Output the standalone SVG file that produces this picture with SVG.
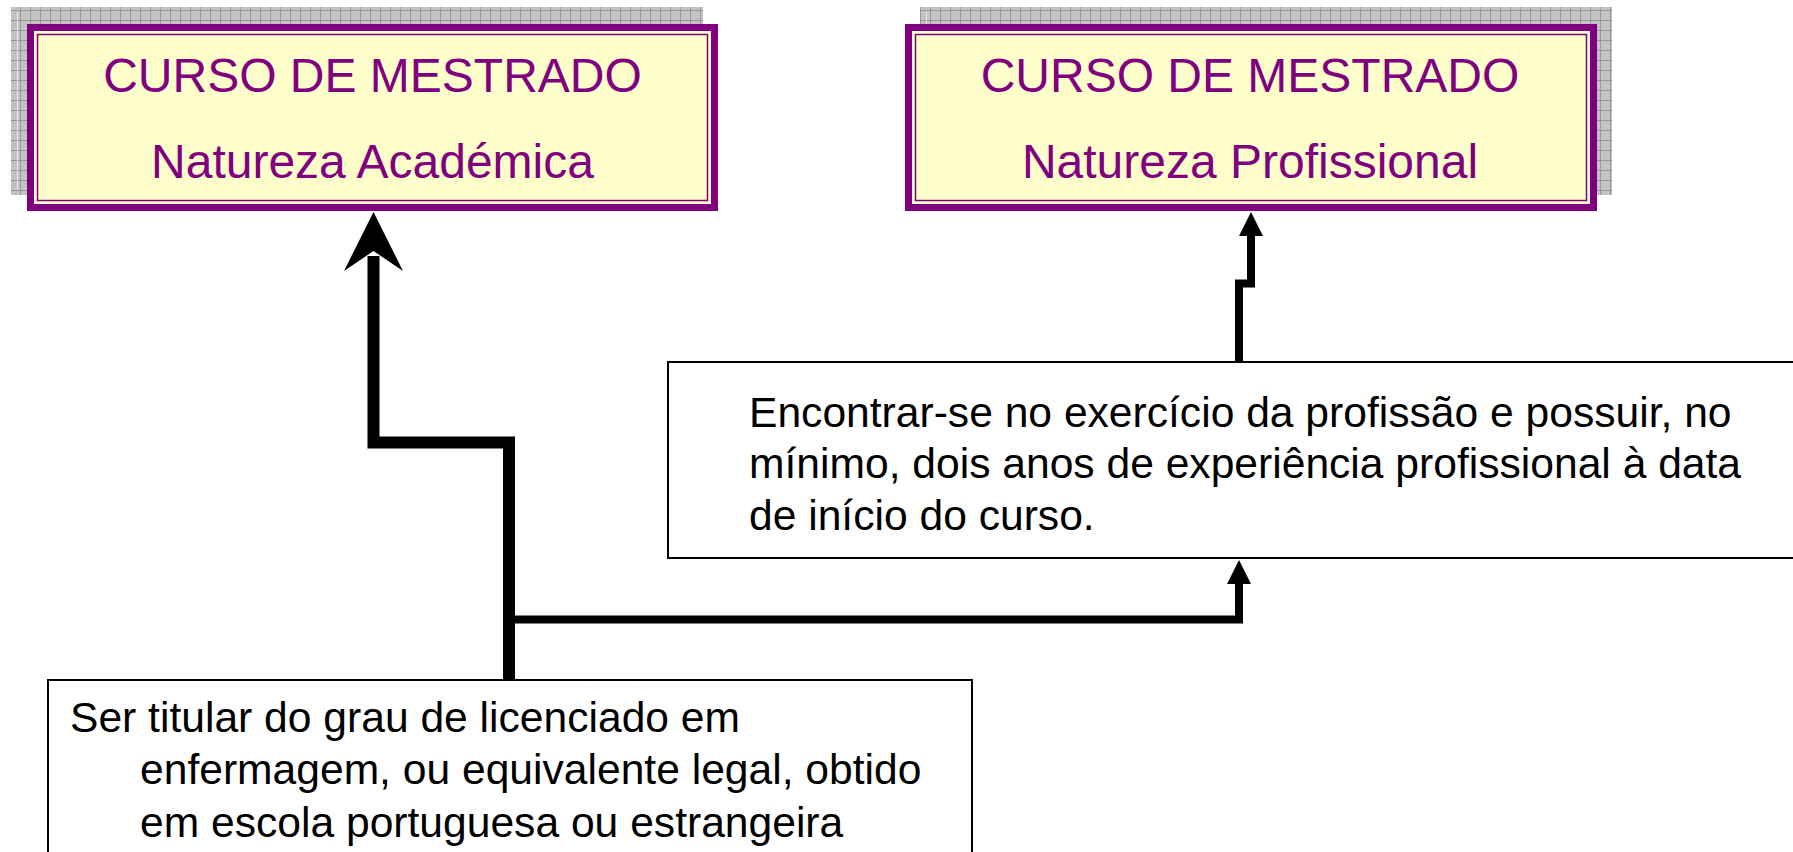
<svg xmlns="http://www.w3.org/2000/svg" width="1793" height="852" viewBox="0 0 1793 852">
  <defs>
    <pattern id="grid" patternUnits="userSpaceOnUse" width="10" height="10">
      <rect width="10" height="10" fill="#c4c4c4"/>
      <rect x="1" y="1" width="1" height="1" fill="#b0b0b0"/>
      <rect x="5" y="3" width="1" height="1" fill="#b0b0b0"/>
      <rect x="3" y="6" width="1" height="1" fill="#b0b0b0"/>
      <rect x="7" y="8" width="1" height="1" fill="#b0b0b0"/>
      <path d="M0,0.5 H10 M0.5,0 V10" stroke="#979797" stroke-width="1" fill="none"/>
    </pattern>
  </defs>
  <style>
    .shadow { fill: url(#grid); }
    .outer { fill: #ffffcc; stroke: #800080; stroke-width: 7; }
    .inner { fill: none; stroke: #800080; stroke-width: 1.5; }
    .title { font-family: "Liberation Sans", Arial, sans-serif; font-size: 48px; fill: #800080; text-anchor: middle; }
    .box { fill: #ffffff; stroke: #000000; stroke-width: 2; }
    .body { font-family: "Liberation Sans", Arial, sans-serif; font-size: 42.6px; fill: #000000; }
    .conn { fill: none; stroke: #000000; stroke-linejoin: miter; stroke-linecap: butt; }
    .head { fill: #000000; }
  </style>

  <g id="node-academica">
    <rect class="shadow" x="11" y="7" width="692" height="188"/>
    <line x1="17.5" y1="12" x2="17.5" y2="190" stroke="#ffffff" stroke-opacity="0.6" stroke-width="1"/>
    <rect class="outer" x="30.5" y="27.5" width="684" height="180"/>
    <rect class="inner" x="37.5" y="34.5" width="670" height="166"/>
    <text class="title" x="372.5" y="92">CURSO DE MESTRADO</text>
    <text class="title" x="372.5" y="178">Natureza Académica</text>
  </g>

  <g id="node-profissional">
    <rect class="shadow" x="920" y="7" width="692" height="188"/>
    <line x1="926.5" y1="12" x2="926.5" y2="190" stroke="#ffffff" stroke-opacity="0.6" stroke-width="1"/>
    <rect class="outer" x="908.5" y="27.5" width="685" height="180"/>
    <rect class="inner" x="915.5" y="34.5" width="671" height="166"/>
    <text class="title" x="1250" y="92">CURSO DE MESTRADO</text>
    <text class="title" x="1250" y="178">Natureza Profissional</text>
  </g>

  <g id="node-experiencia">
    <rect class="box" x="668" y="362" width="1140" height="196"/>
    <text class="body" x="749" y="427">Encontrar-se no exercício da profissão e possuir, no</text>
    <text class="body" x="749" y="478">mínimo, dois anos de experiência profissional à data</text>
    <text class="body" x="749" y="530">de início do curso.</text>
  </g>

  <g id="node-licenciado">
    <rect class="box" x="48" y="680" width="924" height="190"/>
    <text class="body" x="70" y="732">Ser titular do grau de licenciado em</text>
    <text class="body" x="140" y="784">enfermagem, ou equivalente legal, obtido</text>
    <text class="body" x="140" y="837">em escola portuguesa ou estrangeira</text>
  </g>

  <g id="connectors">
    <path class="conn" stroke-width="12" d="M509,680 V442.5 H373.5 V256"/>
    <polygon class="head" points="373.5,212 403,271 373.5,251 344,271"/>
    <path class="conn" stroke-width="8" d="M509,619.5 H1239 V582"/>
    <polygon class="head" points="1239,560 1251,584 1227,584"/>
    <path class="conn" stroke-width="8" d="M1239,362 V283.5 H1251 V234"/>
    <polygon class="head" points="1251,212 1263,236 1239,236"/>
  </g>
</svg>
